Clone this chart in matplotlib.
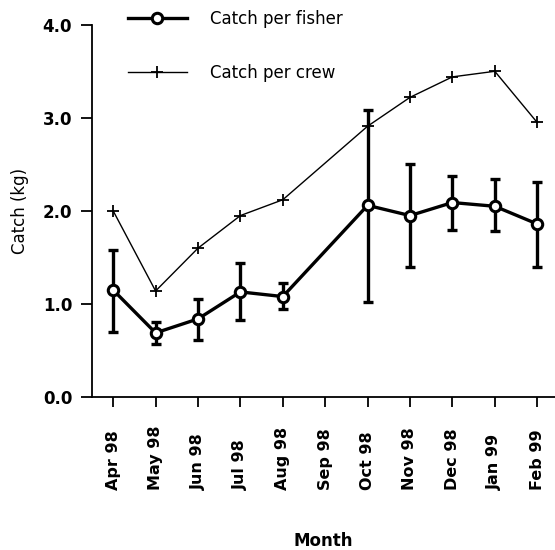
import numpy as np
import matplotlib
matplotlib.use('Agg')
import matplotlib.pyplot as plt
import matplotlib.transforms as mtransforms
from matplotlib.lines import Line2D

# Data

months = ['Apr 98', 'May 98', 'Jun 98', 'Jul 98', 'Aug 98', 'Sep 98',
          'Oct 98', 'Nov 98', 'Dec 98', 'Jan 99', 'Feb 99']

fisher = [1.15, 0.69, 0.84, 1.13, 1.08, np.nan, 2.06, 1.95, 2.09, 2.05, 1.86]
fisher_hi = [1.58, 0.81, 1.05, 1.44, 1.23, np.nan, 3.08, 2.50, 2.38, 2.34, 2.31]
fisher_lo = [0.70, 0.57, 0.61, 0.83, 0.95, np.nan, 1.02, 1.40, 1.80, 1.78, 1.40]

crew = [2.00, 1.14, 1.60, 1.95, 2.12, np.nan, 2.91, 3.22, 3.44, 3.50, 2.95]

plt.rcParams['font.family'] = 'DejaVu Sans'

fig = plt.figure(figsize=(5.55, 5.5), dpi=100)
ax = fig.add_axes([0.165, 0.278, 0.835, 0.677])

x = np.arange(len(months))
f = np.array(fisher)
mask = ~np.isnan(f)
xm = x[mask]

err = [f[mask] - np.array(fisher_lo)[mask], np.array(fisher_hi)[mask] - f[mask]]

c = np.array(crew)
ax.plot(x[mask], c[mask], color='black', lw=1.0, marker='+', ms=9, mew=1.3, zorder=2)

ax.errorbar(xm, f[mask], yerr=err, fmt='none', ecolor='black', elinewidth=2.4,
            capsize=3.5, capthick=2.4, zorder=3)
ax.plot(xm, f[mask], color='black', lw=2.4, marker='o', ms=7.5,
        mfc='white', mec='black', mew=2.2, zorder=4)

ax.set_xlim(-0.51, 10.42)
ax.set_ylim(0, 4.0)
ax.set_yticks([0, 1, 2, 3, 4])
ax.set_yticklabels(['0.0', '1.0', '2.0', '3.0', '4.0'], fontweight='bold', fontsize=12)
ax.set_xticks(x)
ax.set_xticklabels([])

# month labels, bottom-aligned like the original
trans = mtransforms.blended_transform_factory(ax.transData, ax.transAxes)
for i, m in enumerate(months):
    ax.text(i, -0.25, m, transform=trans, rotation=90, ha='center', va='bottom',
            fontsize=11.5, fontweight='bold')

for s in ['top', 'right']:
    ax.spines[s].set_visible(False)
for s in ['left', 'bottom']:
    ax.spines[s].set_linewidth(1.3)

ax.tick_params(axis='y', direction='out', length=8, width=1.3, pad=6)
ax.tick_params(axis='x', direction='out', length=7, width=1.3)

fig.text(0.582, 1 - 541 / 550, 'Month', ha='center', va='center',
         fontsize=12, fontweight='bold')
ax.set_ylabel('Catch (kg)', fontsize=12, labelpad=10)

h1 = Line2D([], [], color='black', lw=2.4, marker='o', ms=7.5,
            mfc='white', mec='black', mew=2.2)
h2 = Line2D([], [], color='black', lw=1.0, marker='+', ms=9, mew=1.3)
fig.legend([h1, h2], ['Catch per fisher', 'Catch per crew'],
           loc='center left', bbox_to_anchor=(0.216, 0.917), frameon=False,
           fontsize=12, borderpad=0, handlelength=3.5, handletextpad=1.4,
           labelspacing=2.17, numpoints=1)

fig.savefig('out.png', dpi=100)
